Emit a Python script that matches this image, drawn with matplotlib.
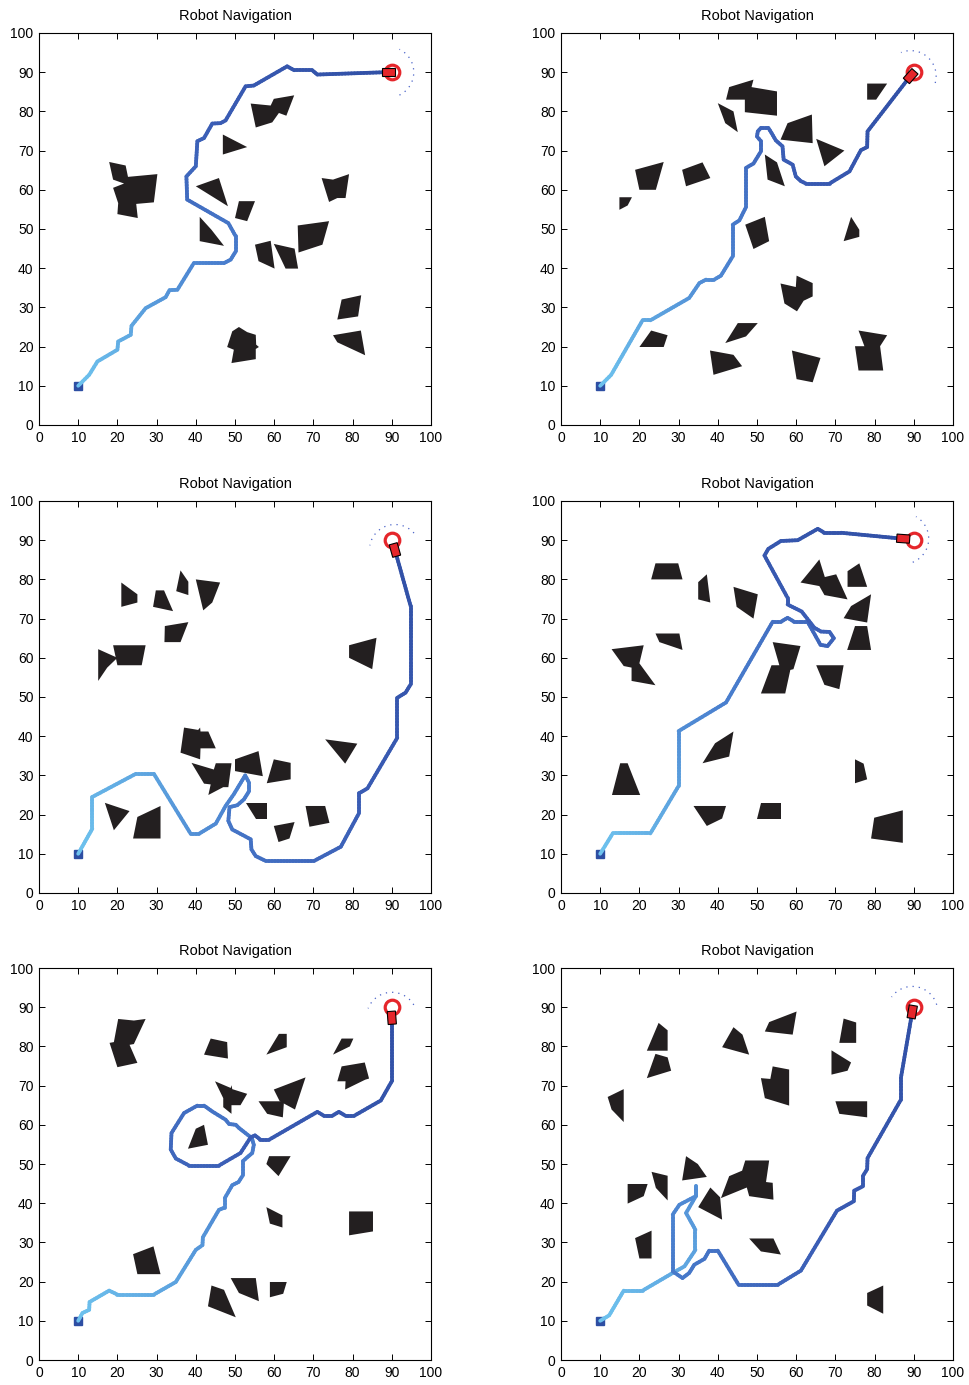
import numpy as np
import matplotlib.pyplot as plt
from matplotlib.collections import LineCollection
from matplotlib.patches import Polygon
from matplotlib.colors import LinearSegmentedColormap

plt.rcParams['font.family'] = ['Liberation Sans', 'DejaVu Sans']

goal = (90, 90)
ticks = list(range(0, 101, 10))
title = "Robot Navigation"

# ---- panel 1 ----
path1_x = [10, 12.8, 14.9, 20.0, 20.2, 23.4, 23.6, 27.2, 32.3, 33.3, 35.3, 39.5, 47.2, 48.9, 50.2, 50.2,
           48.3, 37.8, 37.6, 40.0, 40.4, 42.1, 44.2, 46.3, 47.6, 52.7, 54.8, 63.3, 65.1, 69.7, 71.0, 88.4, 89.1]
path1_y = [10, 12.8, 16.2, 19.2, 21.3, 23.0, 25.3, 29.8, 32.6, 34.4, 34.5, 41.3, 41.3, 42.2, 44.3, 48.1,
           51.5, 57.5, 63.4, 66.0, 72.4, 73.2, 76.9, 77.0, 77.7, 86.4, 86.6, 91.5, 90.5, 90.5, 89.4, 90.0, 90.0]
obst1 = [
    [(54.0, 82.0), (59.1, 81.5), (59.9, 83.2), (65.1, 84.1), (63.1, 78.9), (61.2, 79.6), (59.5, 77.2), (55.3, 75.9)],
    [(46.9, 74.1), (53.1, 70.9), (46.9, 69.0)],
    [(17.9, 67.1), (22.1, 66.2), (22.7, 63.3), (30.2, 64.0), (29.3, 56.8), (24.8, 56.4), (25.2, 52.8),
     (20.0, 53.8), (20.2, 56.6), (18.9, 60.5), (21.7, 61.6), (18.9, 62.6)],
    [(40.0, 60.9), (45.9, 63.0), (48.2, 55.8)],
    [(51.0, 57.1), (55.1, 57.1), (53.1, 52.0), (50.0, 52.8)],
    [(41.0, 53.1), (44.0, 49.8), (47.2, 45.7), (41.0, 46.9)],
    [(66.0, 50.9), (74.0, 52.0), (72.3, 46.0), (66.2, 44.0)],
    [(55.1, 46.0), (59.1, 47.0), (60.1, 39.9), (56.0, 41.8)],
    [(59.9, 46.2), (65.2, 45.0), (66.1, 39.9), (62.9, 39.9)],
    [(72.1, 63.0), (75.0, 62.6), (79.1, 64.0), (78.2, 57.9), (76.1, 57.9), (74.0, 56.9)],
    [(77.2, 32.0), (82.2, 33.1), (81.4, 27.7), (76.1, 26.9)],
    [(75.0, 22.9), (82.1, 24.1), (83.2, 17.8), (76.1, 21.1)],
    [(51.0, 25.0), (53.1, 23.7), (55.3, 23.0), (55.4, 20.5), (56.1, 19.9), (55.3, 19.4), (55.3, 16.8),
     (49.1, 15.8), (49.7, 19.2), (48.0, 19.9), (49.3, 23.9)],
]

# ---- panel 2 ----
path2_x = [10, 12.8, 20.8, 22.8, 32.7, 35.3, 37.0, 39.1, 40.8, 43.8, 43.8, 45.5, 47.2, 47.2, 49.1, 51.0,
           51.0, 50.0, 50.2, 51.0, 52.9, 53.7, 54.8, 56.5, 56.8, 59.1, 59.9, 61.2, 62.5, 68.5, 73.6, 76.5,
           78.1, 78.2, 88.4, 89.2]
path2_y = [10, 12.8, 26.7, 26.7, 32.4, 36.2, 37.1, 37.1, 38.1, 43.0, 51.1, 52.2, 55.6, 65.6, 66.7, 69.8,
           72.4, 73.6, 74.9, 75.8, 75.8, 74.5, 72.6, 71.1, 67.7, 66.4, 63.4, 62.2, 61.6, 61.6, 64.7, 70.1,
           70.9, 74.9, 88.1, 89.0]
obst2 = [
    [(42.9, 86.2), (49.1, 88.1), (48.6, 86.2), (55.1, 85.1), (55.1, 78.9), (46.9, 79.8), (46.9, 83.0), (42.1, 83.0)],
    [(40.0, 82.1), (44.0, 80.0), (45.1, 74.7), (41.9, 77.0)],
    [(57.8, 77.0), (64.0, 79.2), (64.2, 71.9), (56.0, 72.8)],
    [(65.1, 73.0), (72.3, 70.0), (67.2, 66.0)],
    [(78.1, 87.1), (83.2, 87.1), (80.4, 83.0), (78.1, 83.0)],
    [(52.0, 69.0), (55.1, 67.0), (57.1, 60.9), (52.7, 62.6)],
    [(18.9, 65.1), (26.2, 67.1), (24.2, 60.0), (20.0, 60.0)],
    [(30.9, 65.1), (36.1, 67.0), (38.1, 63.0), (31.9, 60.9)],
    [(14.9, 58.1), (18.1, 58.1), (17.0, 56.0), (14.9, 54.9)],
    [(47.0, 51.1), (52.0, 53.1), (53.1, 46.9), (49.1, 44.9)],
    [(74.0, 53.1), (76.1, 49.8), (76.1, 48.0), (72.1, 46.9)],
    [(56.0, 36.1), (59.9, 35.2), (60.1, 38.1), (64.2, 36.2), (64.2, 32.8), (61.9, 31.7), (60.2, 29.0), (57.0, 31.0)],
    [(45.1, 26.0), (50.2, 26.0), (47.2, 22.6), (41.9, 20.9)],
    [(23.0, 24.1), (27.2, 22.9), (26.2, 19.9), (20.0, 19.9)],
    [(38.0, 19.0), (44.0, 17.9), (46.2, 15.0), (38.9, 12.8)],
    [(58.9, 19.0), (66.2, 17.1), (64.2, 10.9), (60.1, 11.7)],
    [(75.9, 24.1), (83.2, 22.9), (81.4, 20.1), (82.2, 13.9), (75.9, 13.9), (75.0, 20.1), (77.4, 20.1)],
]

# ---- panel 3 ----
path3_x = [10, 13.6, 13.6, 24.7, 29.3, 38.7, 40.8, 45.1, 47.6, 49.7, 52.6, 53.6, 53.6, 52.3, 50.6, 48.6,
           48.3, 49.3, 54.0, 54.2, 55.3, 57.8, 70.2, 77.0, 81.6, 81.6, 83.8, 91.4, 91.4, 93.5, 94.8, 94.8, 90.8]
path3_y = [10, 16.4, 24.5, 30.4, 30.4, 15.1, 15.1, 17.7, 22.2, 25.2, 30.0, 28.1, 26.0, 23.9, 22.4, 21.9,
           18.4, 16.2, 13.7, 11.1, 9.4, 8.2, 8.2, 11.8, 20.3, 25.4, 26.7, 39.6, 49.8, 51.1, 53.2, 73.2, 87.5]
obst3 = [
    [(21.0, 79.2), (25.1, 76.2), (25.1, 74.1), (21.0, 73.0)],
    [(29.8, 77.2), (31.9, 77.2), (34.2, 71.9), (29.1, 73.0)],
    [(36.1, 82.3), (38.1, 79.4), (38.1, 76.0), (35.0, 77.0)],
    [(40.0, 80.0), (46.2, 79.2), (44.2, 74.1), (41.9, 72.1)],
    [(32.1, 68.1), (38.1, 69.1), (36.1, 64.0), (32.0, 64.0)],
    [(18.9, 63.2), (27.2, 63.2), (26.2, 58.1), (20.0, 58.1)],
    [(15.1, 62.2), (20.0, 60.0), (17.4, 57.5), (15.1, 54.1)],
    [(79.1, 63.2), (86.1, 65.1), (85.0, 57.1), (79.1, 60.0)],
    [(37.0, 42.2), (40.6, 41.6), (41.1, 42.2), (41.2, 41.2), (43.2, 41.2), (45.1, 36.9), (41.2, 36.9),
     (41.1, 34.1), (36.1, 35.8)],
    [(73.0, 39.2), (81.2, 38.1), (78.1, 33.0)],
    [(38.9, 33.2), (44.6, 31.5), (45.1, 33.1), (49.1, 33.1), (48.3, 27.0), (47.0, 27.0), (43.2, 25.0),
     (43.8, 27.7), (42.1, 27.9)],
    [(50.0, 34.1), (56.0, 36.2), (57.1, 29.8), (50.0, 31.1)],
    [(59.9, 34.1), (64.2, 33.2), (64.2, 29.0), (58.1, 28.0)],
    [(52.9, 23.0), (58.2, 23.0), (58.2, 19.0), (55.3, 19.0)],
    [(68.0, 22.2), (73.0, 22.2), (74.1, 17.9), (69.0, 16.9)],
    [(59.9, 17.1), (65.2, 18.1), (63.9, 13.9), (61.1, 13.0)],
    [(16.8, 23.0), (23.1, 20.9), (19.1, 16.0)],
    [(25.1, 19.4), (31.0, 22.2), (31.0, 13.9), (24.0, 13.9)],
]

# ---- panel 4 ----
path4_x = [10, 13.2, 22.8, 30.0, 30.0, 42.1, 54.0, 56.1, 57.8, 59.5, 62.9, 66.2, 68.0, 69.6, 68.5, 66.3,
           64.6, 61.4, 57.8, 57.8, 51.9, 52.9, 56.1, 60.4, 65.5, 67.2, 71.4, 85.9, 87.3]
path4_y = [10, 15.2, 15.2, 27.3, 41.3, 48.6, 69.2, 69.2, 70.2, 69.2, 69.2, 63.3, 63.0, 65.0, 66.6, 66.7,
           67.7, 71.8, 73.6, 75.3, 86.1, 87.8, 89.8, 90.0, 92.9, 91.9, 91.9, 90.5, 90.4]
obst4 = [
    [(24.1, 84.1), (29.9, 84.1), (31.0, 80.0), (23.0, 80.0)],
    [(37.2, 81.3), (38.1, 74.1), (35.0, 74.9), (35.0, 79.3)],
    [(44.0, 78.1), (50.2, 76.2), (49.1, 70.0), (44.8, 73.0)],
    [(61.1, 79.2), (63.9, 82.6), (65.9, 85.1), (67.3, 80.6), (70.2, 81.3), (73.1, 74.9), (67.2, 76.0), (65.9, 78.3)],
    [(73.1, 82.1), (76.1, 84.1), (78.1, 78.1), (73.1, 78.1)],
    [(74.0, 73.2), (79.1, 76.2), (78.1, 69.0), (72.1, 70.1)],
    [(75.0, 68.1), (78.1, 68.1), (79.1, 62.0), (73.0, 62.0)],
    [(24.1, 66.2), (30.2, 66.2), (31.0, 62.0), (25.1, 64.0)],
    [(12.9, 62.2), (21.1, 63.2), (20.0, 58.6), (24.1, 53.0), (18.0, 54.1), (18.0, 57.5), (16.0, 57.9)],
    [(54.0, 64.0), (61.1, 63.0), (59.3, 57.1), (58.5, 56.9), (57.2, 50.9), (51.0, 50.9), (53.7, 58.1), (55.7, 58.1)],
    [(65.1, 58.1), (72.1, 58.1), (71.0, 52.0), (67.2, 53.1)],
    [(39.3, 38.2), (44.0, 41.2), (42.9, 34.8), (36.1, 33.1)],
    [(15.1, 33.1), (17.0, 33.1), (20.2, 25.0), (13.0, 25.0)],
    [(75.0, 34.1), (77.2, 33.0), (78.1, 29.0), (75.0, 28.0)],
    [(33.8, 22.2), (42.1, 22.2), (41.1, 19.0), (37.2, 17.1)],
    [(51.0, 23.0), (56.1, 23.0), (56.1, 19.0), (50.0, 19.0)],
    [(79.9, 19.2), (87.2, 21.1), (87.2, 12.8), (79.1, 13.9)],
]

# ---- panel 5 ----
path5_x = [10, 11.1, 12.8, 12.9, 17.9, 20.0, 29.3, 34.9, 40.0, 41.7, 41.8, 45.9, 47.4, 47.4, 49.3, 50.9,
           52.0, 52.0, 53.1, 54.4, 54.8, 54.3, 51.0, 50.2, 48.5, 47.6, 44.2, 42.1, 40.4, 37.0, 33.8, 33.6,
           34.9, 38.3, 45.9, 51.4, 54.0, 55.1, 56.5, 58.7, 71.0, 72.7, 74.8, 76.5, 78.2, 80.4, 87.2, 90.1,
           90.1, 90.0]
path5_y = [10, 12.0, 12.8, 14.8, 17.7, 16.7, 16.7, 19.9, 28.1, 29.3, 31.3, 38.3, 38.9, 41.3, 44.6, 45.4,
           47.1, 50.7, 51.7, 52.8, 54.9, 56.6, 59.2, 60.0, 60.2, 61.3, 63.4, 64.9, 64.9, 63.0, 57.9, 53.7,
           51.4, 49.6, 49.6, 52.8, 56.8, 57.3, 56.2, 56.2, 63.3, 62.3, 62.3, 63.3, 62.3, 62.3, 66.2, 71.3,
           86.0, 87.3]
obst5 = [
    [(20.2, 87.0), (24.2, 86.6), (27.2, 87.0), (24.2, 80.6), (23.1, 80.4), (25.1, 75.8), (20.0, 74.7),
     (18.0, 80.9), (19.1, 81.1)],
    [(43.8, 82.0), (48.0, 81.1), (48.2, 76.9), (42.1, 77.9)],
    [(61.2, 83.2), (63.2, 83.2), (63.2, 79.8), (58.0, 77.9)],
    [(77.2, 82.0), (80.2, 82.0), (79.3, 80.0), (75.0, 77.9)],
    [(77.2, 74.9), (83.1, 75.9), (84.2, 71.8), (83.2, 71.5), (78.1, 69.0), (78.2, 71.1), (76.1, 71.1)],
    [(44.9, 71.1), (48.9, 69.4), (49.1, 70.1), (49.3, 69.1), (53.1, 67.9), (51.4, 65.0), (49.1, 65.0),
     (49.1, 62.8), (47.0, 64.5), (47.0, 66.8)],
    [(59.9, 69.0), (68.0, 72.1), (65.3, 63.9), (61.4, 66.0)],
    [(56.0, 66.0), (62.5, 66.0), (62.2, 61.9), (58.2, 62.8)],
    [(40.0, 59.0), (42.1, 60.0), (43.1, 54.9), (38.0, 53.9)],
    [(58.7, 52.0), (64.2, 52.0), (61.1, 46.9), (58.0, 50.0)],
    [(58.0, 39.0), (62.1, 36.9), (62.1, 33.8), (58.9, 34.8)],
    [(79.1, 37.9), (85.2, 37.9), (85.2, 32.8), (79.1, 31.8)],
    [(24.0, 27.0), (29.2, 29.0), (31.0, 21.9), (25.1, 21.9)],
    [(48.9, 20.9), (55.3, 20.9), (56.1, 15.0), (51.0, 17.1)],
    [(58.9, 19.9), (63.2, 19.9), (62.3, 16.9), (58.9, 16.0)],
    [(44.0, 19.0), (47.2, 17.9), (50.2, 10.9), (43.1, 13.7)],
]

# ---- panel 6 ----
path6_x = [10, 12.3, 16.0, 20.8, 28.5, 31.5, 34.3, 34.3, 31.9, 34.4, 34.4, 34.4, 30.2, 28.5, 28.5, 31.0,
           32.7, 34.0, 36.6, 37.8, 40.0, 45.3, 55.3, 61.2, 70.4, 74.7, 74.8, 77.0, 77.0, 78.1, 78.2, 86.7,
           86.7, 89.6]
path6_y = [10, 11.4, 17.7, 17.7, 22.2, 23.9, 28.1, 33.2, 37.5, 41.8, 44.3, 41.8, 39.6, 37.1, 22.6, 20.9,
           22.2, 24.3, 25.8, 27.9, 27.9, 19.2, 19.2, 22.8, 38.1, 40.5, 43.2, 44.3, 46.9, 48.7, 51.5, 66.4,
           71.9, 88.8]
obst6 = [
    [(24.9, 86.0), (27.2, 84.1), (27.2, 78.9), (21.9, 78.9)],
    [(24.1, 78.1), (27.2, 77.2), (28.1, 73.8), (21.9, 71.9)],
    [(11.9, 67.1), (16.0, 69.1), (16.0, 60.7), (12.9, 63.9)],
    [(44.0, 84.9), (46.3, 83.0), (48.0, 77.9), (41.1, 79.8)],
    [(53.1, 86.2), (60.1, 88.9), (59.1, 83.0), (52.0, 83.8)],
    [(72.1, 87.1), (75.3, 86.1), (75.3, 80.9), (71.0, 80.9)],
    [(69.0, 79.0), (74.0, 75.9), (73.1, 73.8), (69.0, 72.8)],
    [(54.0, 74.9), (58.2, 74.1), (58.2, 64.9), (52.0, 66.8), (51.0, 71.9), (53.4, 71.7)],
    [(70.0, 66.0), (78.1, 66.0), (78.1, 61.9), (71.0, 62.8)],
    [(31.9, 52.0), (34.9, 50.0), (37.2, 46.7), (30.9, 45.8)],
    [(23.1, 48.0), (27.2, 47.0), (27.2, 40.7), (24.2, 43.9)],
    [(17.0, 44.9), (22.1, 44.9), (21.1, 41.8), (17.0, 39.9)],
    [(47.0, 50.9), (53.1, 50.9), (52.3, 45.4), (54.0, 45.2), (54.2, 40.9), (48.0, 41.8), (47.4, 44.0),
     (40.8, 41.3), (42.9, 46.9), (46.2, 48.3)],
    [(38.1, 44.0), (40.6, 41.5), (41.1, 35.8), (35.0, 39.0)],
    [(18.9, 31.1), (23.1, 33.0), (23.1, 25.9), (20.0, 25.9)],
    [(48.0, 31.0), (54.2, 31.0), (56.1, 26.9), (51.0, 27.7)],
    [(78.1, 17.1), (82.2, 19.0), (82.2, 11.8), (78.1, 13.9)],
]

panels = [
    (path1_x, path1_y, obst1),
    (path2_x, path2_y, obst2),
    (path3_x, path3_y, obst3),
    (path4_x, path4_y, obst4),
    (path5_x, path5_y, obst5),
    (path6_x, path6_y, obst6),
]

path_cmap = LinearSegmentedColormap.from_list("path", ["#6ec3ee", "#4a80cf", "#3a5cb4", "#3150a6"])
RED = "#e5262b"


def gradient_pieces(px, py, step=0.8):
    # split each path segment into short pieces so the colour ramps smoothly
    segs, pos = [], []
    dist = 0.0
    for x0, y0, x1, y1 in zip(px[:-1], py[:-1], px[1:], py[1:]):
        d = np.hypot(x1 - x0, y1 - y0)
        n = max(1, int(np.ceil(d / step)))
        t = np.linspace(0, 1, n + 1)
        xs = x0 + (x1 - x0) * t
        ys = y0 + (y1 - y0) * t
        for k in range(n):
            segs.append([(xs[k], ys[k]), (xs[k + 1], ys[k + 1])])
            pos.append(dist + d * (t[k] + t[k + 1]) / 2)
        dist += d
    return segs, np.array(pos) / dist


def draw_panel(ax, px, py, obstacles):
    for poly in obstacles:
        ax.add_patch(Polygon(poly, closed=True, facecolor="#231f20", edgecolor="none", zorder=2))

    # start marker
    ax.plot(px[0], py[0], "s", color="#2d4ea3", ms=6, zorder=3)

    # path coloured from light (start) to dark (end)
    segs, frac = gradient_pieces(px, py)
    lc = LineCollection(segs, colors=path_cmap(frac), linewidths=2.7,
                        capstyle="round", joinstyle="round", zorder=4)
    ax.add_collection(lc)

    # heading of the robot at the end of the path
    ang = np.arctan2(py[-1] - py[-2], px[-1] - px[-2])

    # sensor range arc
    a = np.linspace(ang - np.radians(64), ang + np.radians(64), 60)
    ax.plot(px[-1] + 6.5 * np.cos(a), py[-1] + 6.5 * np.sin(a),
            color="#4a63c8", lw=0.9, ls=(0, (1, 4)), zorder=3)

    # goal ring
    ax.plot(*goal, "o", ms=10.5, mfc="none", mec=RED, mew=2.3, zorder=5)

    # robot body
    L, W = 3.3, 2.1
    corners = np.array([[-L / 2, -W / 2], [L / 2, -W / 2], [L / 2, W / 2], [-L / 2, W / 2]])
    rot = np.array([[np.cos(ang), -np.sin(ang)], [np.sin(ang), np.cos(ang)]])
    body = corners @ rot.T + [px[-1], py[-1]]
    ax.add_patch(Polygon(body, closed=True, facecolor=RED, edgecolor="black", lw=0.8, zorder=6))

    ax.set_xlim(0, 100)
    ax.set_ylim(0, 100)
    ax.set_xticks(ticks)
    ax.set_yticks(ticks)
    ax.tick_params(direction="in", top=True, right=True, length=4, width=0.7,
                   labelsize=10, pad=4)
    for s in ax.spines.values():
        s.set_linewidth(0.8)
    ax.set_title(title, fontsize=10.5, pad=9)


fig = plt.figure(figsize=(9.7, 13.85), dpi=100)
lefts = [39 / 970, 561 / 970]
bottoms = [1 - 425 / 1385, 1 - 893 / 1385, 1 - 1360 / 1385]
w, h = 392 / 970, 392 / 1385

for i, (px, py, obs) in enumerate(panels):
    ax = fig.add_axes([lefts[i % 2], bottoms[i // 2], w, h])
    draw_panel(ax, px, py, obs)

fig.savefig("out.png", dpi=100)
plt.close(fig)
